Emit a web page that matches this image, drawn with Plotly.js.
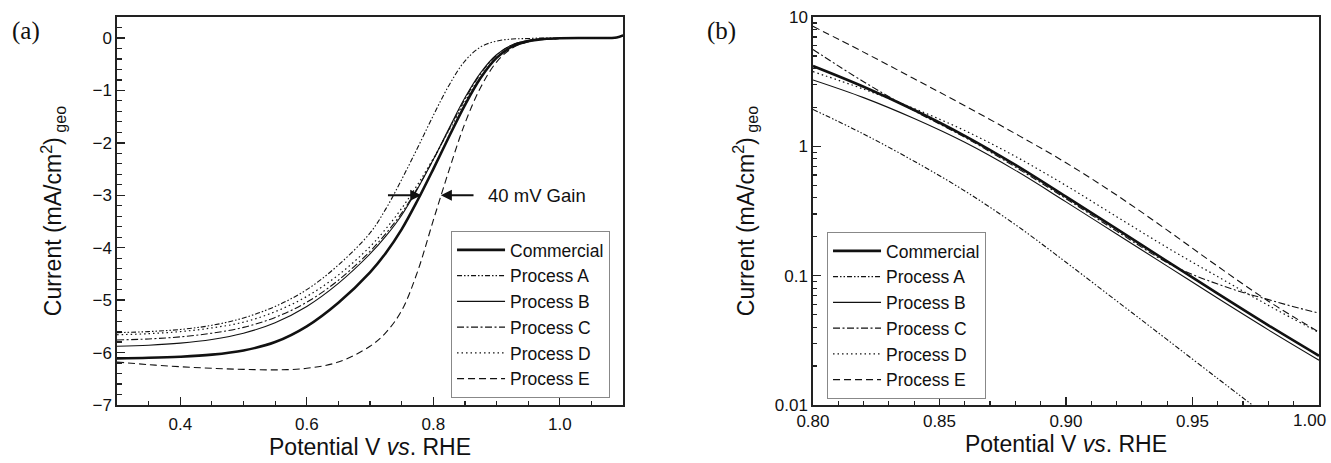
<!DOCTYPE html>
<html>
<head>
<meta charset="utf-8">
<script src="https://cdn.plot.ly/plotly-3.0.1.min.js"></script>
<style>html,body{margin:0;padding:0;background:#fff;}#chart{width:1331px;height:463px;}</style>
</head>
<body>
<div id="chart"></div>
<script>
// ---------- Panel (a): polarization curves ----------
const potentialA = [0.30,0.35,0.40,0.45,0.50,0.55,0.60,0.65,0.70,0.725,0.75,0.775,0.80,0.825,0.85,0.875,0.90,0.925,0.95,0.975,1.00,1.05,1.09,1.10];
const lsvCommercial = [-6.11,-6.10,-6.08,-6.04,-5.96,-5.80,-5.50,-5.05,-4.47,-4.10,-3.65,-3.10,-2.50,-1.88,-1.28,-0.76,-0.38,-0.16,-0.06,-0.02,-0.005,0.00,0.01,0.05];
const lsvA = [-5.62,-5.60,-5.56,-5.48,-5.34,-5.12,-4.80,-4.33,-3.72,-3.26,-2.70,-2.10,-1.48,-0.90,-0.44,-0.17,-0.06,-0.02,-0.01,0.00,0.00,0.00,0.01,0.05];
const lsvB = [-5.88,-5.86,-5.82,-5.75,-5.63,-5.43,-5.12,-4.68,-4.12,-3.78,-3.38,-2.88,-2.32,-1.72,-1.14,-0.66,-0.32,-0.13,-0.05,-0.02,-0.01,0.00,0.01,0.05];
const lsvC = [-5.76,-5.74,-5.70,-5.63,-5.52,-5.33,-5.04,-4.62,-4.07,-3.73,-3.34,-2.86,-2.32,-1.74,-1.17,-0.68,-0.33,-0.13,-0.05,-0.02,-0.01,0.00,0.01,0.05];
const lsvD = [-5.66,-5.64,-5.60,-5.53,-5.42,-5.22,-4.93,-4.52,-3.98,-3.64,-3.25,-2.80,-2.30,-1.76,-1.22,-0.74,-0.38,-0.17,-0.07,-0.02,-0.01,0.00,0.01,0.05];
const lsvE = [-6.18,-6.23,-6.27,-6.30,-6.32,-6.33,-6.30,-6.18,-5.88,-5.62,-5.20,-4.46,-3.48,-2.52,-1.63,-0.94,-0.46,-0.19,-0.07,-0.02,-0.01,0.00,0.01,0.05];

// ---------- Panel (b): Tafel (kinetic current) ----------
const potentialB = [0.80,0.82,0.84,0.86,0.88,0.90,0.92,0.94,0.96,0.98,1.00];
const potentialB_A = [0.80,0.82,0.84,0.86,0.88,0.90,0.92,0.94,0.96,0.975];
const potentialB_C = [0.80,0.82,0.84,0.86,0.88,0.90,0.92,0.94,0.95,0.96,0.97,0.98,0.99,1.00];
const ikCommercial = [4.18,2.89,1.91,1.205,0.718,0.408,0.230,0.129,0.0726,0.0413,0.0240];
const ikA = [1.93,1.245,0.767,0.452,0.248,0.127,0.0638,0.0320,0.0160,0.00955];
const ikB = [3.26,2.38,1.64,1.074,0.652,0.372,0.210,0.1186,0.0668,0.0381,0.0222];
const ikC = [5.61,3.16,1.884,1.175,0.692,0.394,0.221,0.126,0.102,0.0861,0.0741,0.0653,0.0575,0.0513];
const ikD = [3.78,2.77,1.96,1.324,0.836,0.498,0.286,0.165,0.0982,0.0589,0.0363];
const ikE = [8.47,5.35,3.33,2.06,1.253,0.746,0.420,0.225,0.118,0.0635,0.0366];

const seriesNames = ['Commercial','Process A','Process B','Process C','Process D','Process E'];
const xTicksB = [0.80,0.85,0.90,0.95,1.00];
const xTickTextB = ['0.80','0.85','0.90','0.95',''];   // last label drawn separately so it stays inside the page
const xLastLabelB = '1.00';
const yTicksB = [0.01,0.1,1,10];
const yTickTextB = ['0.01','0.1','1','10'];

const ink = '#111';
const styles = [
  {width:2.6, dash:'solid'},
  {width:1.1, dash:'5px,2px,1.5px,2px,1.5px,2px'},
  {width:1.1, dash:'solid'},
  {width:1.1, dash:'7px,2.5px,2px,2.5px'},
  {width:1.2, dash:'1.5px,3px'},
  {width:1.1, dash:'7px,4px'}
];

const aY = [lsvCommercial,lsvA,lsvB,lsvC,lsvD,lsvE];
const bX = [potentialB,potentialB_A,potentialB,potentialB_C,potentialB,potentialB];
const bY = [ikCommercial,ikA,ikB,ikC,ikD,ikE];

const traces = [];
seriesNames.forEach((n,i)=>{
  traces.push({x:potentialA, y:aY[i], name:n, type:'scatter', mode:'lines',
    line:{color:ink, width:styles[i].width, dash:styles[i].dash, shape:'spline', smoothing:1},
    xaxis:'x', yaxis:'y', legend:'legend'});
});
seriesNames.forEach((n,i)=>{
  traces.push({x:bX[i], y:bY[i], name:n, type:'scatter', mode:'lines',
    line:{color:ink, width:styles[i].width, dash:styles[i].dash, shape:'spline', smoothing:1},
    xaxis:'x2', yaxis:'y2', legend:'legend2'});
});

const minorLog = [];
for (let d=-2; d<1; d++) for (let k=2; k<10; k++) minorLog.push(k*Math.pow(10,d));

const axisCommon = {
  showline:true, mirror:true, linewidth:1.6, linecolor:'#222', zeroline:false, showgrid:false,
  ticks:'inside', ticklen:8, tickwidth:1.4, tickcolor:'#222',
  tickfont:{size:17, color:ink}, automargin:false
};
const yTitle = 'Current (mA/cm<sup>2</sup>)<sub> geo</sub>';
const xTitle = 'Potential V <i>vs</i>. RHE';
const legendFont = {size:17.5, color:ink};

const layout = {
  width:1331, height:463,
  margin:{l:117, r:12, t:17, b:58},
  paper_bgcolor:'#fff', plot_bgcolor:'#fff',
  font:{family:'Liberation Sans, Arial, sans-serif', color:ink, size:17},
  showlegend:true,
  xaxis: Object.assign({}, axisCommon, {
    domain:[0,0.421], range:[0.3,1.1], tick0:0.4, dtick:0.2, tickformat:'.1f', anchor:'y',
    ticklabelstandoff:3,
    minor:{dtick:0.05, ticks:'inside', ticklen:4.5, tickwidth:1.2, tickcolor:'#222', showgrid:false},
    title:{text:xTitle, font:{size:23}, standoff:0}
  }),
  yaxis: Object.assign({}, axisCommon, {
    domain:[0,1], range:[-7,0.4], tick0:0, dtick:1, anchor:'x',
    minor:{dtick:0.2, ticks:'inside', ticklen:4.5, tickwidth:1.2, tickcolor:'#222', showgrid:false},
    title:{text:yTitle, font:{size:23}, standoff:24}
  }),
  xaxis2: Object.assign({}, axisCommon, {
    domain:[0.579,1], range:[0.8,1.0], anchor:'y2',
    tickmode:'array', tickvals:xTicksB, ticktext:xTickTextB,
    ticklabelstandoff:0,
    minor:{dtick:0.01, tick0:0.8, ticks:'inside', ticklen:4.5, tickwidth:1.2, tickcolor:'#222', showgrid:false},
    title:{text:xTitle, font:{size:23}, standoff:0}
  }),
  yaxis2: Object.assign({}, axisCommon, {
    domain:[0,1], type:'log', range:[-2,1], anchor:'x2',
    tickmode:'array', tickvals:yTicksB, ticktext:yTickTextB,
    minor:{tickmode:'array', tickvals:minorLog, ticks:'inside', ticklen:4.5, tickwidth:1.2, tickcolor:'#222', showgrid:false},
    title:{text:yTitle, font:{size:23}, standoff:14}
  }),
  legend:{x:0.2779, y:0.4485, xanchor:'left', yanchor:'top', bgcolor:'#fff', bordercolor:'#888', borderwidth:1,
    font:legendFont, itemwidth:48, tracegroupgap:0},
  legend2:{x:0.5907, y:0.4459, xanchor:'left', yanchor:'top', bgcolor:'#fff', bordercolor:'#888', borderwidth:1,
    font:legendFont, itemwidth:48, tracegroupgap:0},
  annotations:[
    {xref:'paper', yref:'paper', x:-0.0757, y:0.964, xanchor:'center', yanchor:'middle', text:'(a)', showarrow:false,
      font:{family:'Liberation Serif, Times New Roman, serif', size:25, color:ink}},
    {xref:'paper', yref:'paper', x:0.5033, y:0.964, xanchor:'center', yanchor:'middle', text:'(b)', showarrow:false,
      font:{family:'Liberation Serif, Times New Roman, serif', size:25, color:ink}},
    {xref:'x2', yref:'paper', x:xTicksB[xTicksB.length-1], y:0, xanchor:'right', yanchor:'top', xshift:9, yshift:-4,
      text:xLastLabelB, showarrow:false, font:{size:17, color:ink}},
    {xref:'x', yref:'y', axref:'x', ayref:'y', x:0.781, y:-3, ax:0.726, ay:-3, text:'', showarrow:true,
      arrowhead:2, arrowsize:1.1, arrowwidth:2, arrowcolor:ink},
    {xref:'x', yref:'y', axref:'x', ayref:'y', x:0.812, y:-3, ax:0.866, ay:-3, text:'', showarrow:true,
      arrowhead:2, arrowsize:1.1, arrowwidth:2, arrowcolor:ink},
    {xref:'x', yref:'y', x:0.884, y:-3, xanchor:'left', yanchor:'middle', text:'40 mV Gain', showarrow:false,
      font:{size:18.5, color:ink}}
  ]
};

Plotly.newPlot('chart', traces, layout, {displayModeBar:false, staticPlot:true});
</script>
</body>
</html>
